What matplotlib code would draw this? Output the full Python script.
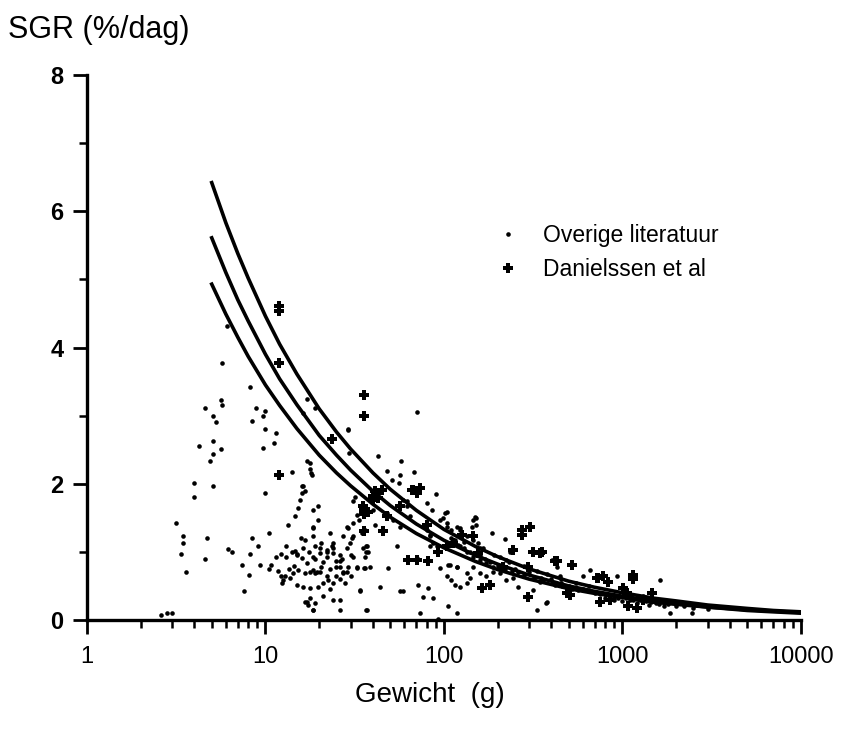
import numpy as np
import matplotlib
matplotlib.use("Agg")
import matplotlib.pyplot as plt
from matplotlib.ticker import FixedLocator, NullFormatter

plt.rcParams["font.family"] = ["Liberation Sans", "DejaVu Sans"]

# ── Fitted curves ────────────────────────────────────────────────────────────
curve_w = [5, 6, 7, 8, 10, 12, 15, 20, 25, 30, 40, 50, 70, 100, 150, 200,
           300, 500, 700, 1000, 1500, 2000, 3000, 5000, 7000, 10000]
curve_top = [6.42, 5.83, 5.38, 5.02, 4.46, 4.05, 3.61, 3.10, 2.76, 2.51, 2.16,
             1.92, 1.61, 1.33, 1.08, 0.93, 0.75, 0.57, 0.48, 0.40, 0.32, 0.28,
             0.22, 0.17, 0.14, 0.12]
curve_mid = [5.61, 5.10, 4.70, 4.39, 3.90, 3.54, 3.16, 2.71, 2.42, 2.20, 1.89,
             1.68, 1.41, 1.17, 0.95, 0.82, 0.66, 0.50, 0.42, 0.35, 0.28, 0.24,
             0.19, 0.15, 0.13, 0.11]
curve_low = [4.93, 4.49, 4.15, 3.87, 3.45, 3.15, 2.81, 2.42, 2.16, 1.97, 1.70,
             1.51, 1.27, 1.06, 0.86, 0.74, 0.60, 0.46, 0.39, 0.33, 0.26, 0.23,
             0.19, 0.14, 0.12, 0.10]

# ── Overige literatuur (small dots): weight (g), SGR (%/dag) ────────────────
lit_w = [2.6, 2.8, 3.0, 3.14, 3.46, 3.46, 3.36, 3.59, 3.99, 3.99, 4.26, 4.58,
         4.58, 4.70, 4.89, 5.06, 5.26, 5.06, 5.06, 5.06, 5.63, 5.69, 5.63, 5.69,
         6.06, 6.19, 6.46, 7.36, 7.59, 8.11, 8.19, 8.19, 8.44, 8.44, 8.81, 9.12,
         9.31, 9.64, 9.72, 10.0, 10.0, 10.0, 10.4, 10.4, 10.7, 11.1, 11.5, 11.5,
         12.2, 12.2, 12.6, 13.0, 13.4, 14.1, 14.6, 14.6, 15.1, 15.3, 15.6, 16.1,
         16.3, 15.8, 16.3, 14.3, 15.3, 16.6, 17.2, 17.8, 18.5, 18.5, 18.5, 18.5,
         17.8, 18.0,
         13.1, 14.0, 15.0, 16.0, 17.0, 18.5, 19.4, 20.2, 17.8, 16.6, 18.9, 20.6,
         22.0, 23.5, 24.0, 25.0, 26.1, 27.3, 28.5, 29.1, 25.0, 22.5, 21.1, 19.8,
         17.8, 16.3, 15.0, 13.7, 12.9, 12.3, 20.6, 22.0, 24.0, 26.1, 28.5, 27.3,
         20.2, 18.5,
         21, 23, 19, 22, 24, 26, 17.5, 14.5, 13.5, 11.8, 27, 30, 30, 28, 23, 21,
         19, 26,
         29.1, 30.4, 31.0, 29.1, 32.4, 33.9, 36.5, 36.5, 36.5, 35.5, 33.3, 40.2,
         41.0, 43.8, 29.2, 31.0, 31.6, 32.4,
         17, 18.9, 16.2, 29.1, 71, 42.5, 57.2, 68.2, 89.8, 55.7, 101, 149, 185,
         220, 123, 17, 17.8, 18.2, 16, 16.6, 19.8, 18.5, 19.8, 16.6, 18.9, 23,
         28.5, 31, 29.7, 20.2, 22, 24, 26.1, 25, 27.3, 36.9, 37.7, 31, 32.4,
         36.1, 48.8, 36.9, 33.8, 26.1, 24, 18.5, 17, 56.7, 59.2, 71.8, 76.6,
         81.7, 87.1, 73.4, 92.9, 106, 118, 103.5, 110, 115, 123, 134, 134, 140,
         146, 118, 106, 159, 173, 189, 206, 224, 244, 261, 316, 345, 410, 447,
         330, 376, 103.5, 118, 99, 146, 143, 47.8, 51, 56.7, 61.8, 64.5, 83.6,
         83.6,
         103.5, 151, 151, 401, 428, 59.2, 61.8, 80, 85.3, 95, 103.5, 110, 123,
         134, 146, 156, 166, 115, 123, 134, 146, 159, 173, 189, 206, 224, 234,
         80, 83.6, 87.1, 91, 52, 56.7, 47.8, 36.1, 34.6, 35.3, 36.1, 38.5, 54.3,
         70.3, 80, 95, 108, 118,
         658, 927, 1622, 1846, 2443, 603, 373,
         1100, 1200, 1300, 1400, 1500, 1600, 1700, 900, 800, 700, 600, 500, 450,
         400, 350, 300, 250, 2000, 2500, 3000,
         110, 120, 130, 140, 160, 170, 180, 200, 220, 240, 260, 280, 320, 360,
         420, 460, 520, 560, 650, 750, 850, 950, 1050, 1150, 1250, 1350, 1450,
         1550, 1800, 2200, 1000, 900, 800, 1100, 1300, 1600, 650, 550, 450, 380,
         330, 280, 230, 190, 160, 130]
lit_sgr = [0.08, 0.10, 0.10, 1.43, 1.24, 1.13, 0.97, 0.70, 2.01, 1.81, 2.56,
           3.11, 0.89, 1.20, 2.33, 2.99, 2.91, 2.63, 2.44, 1.97, 3.23, 3.15,
           2.51, 3.77, 4.32, 1.04, 1.00, 0.81, 0.43, 0.66, 0.97, 3.42, 2.92,
           1.20, 3.11, 1.08, 0.81, 2.52, 2.99, 3.07, 2.80, 1.86, 1.27, 0.75,
           0.81, 2.60, 2.75, 0.93, 0.97, 0.64, 0.59, 0.93, 1.40, 2.17, 1.52,
           1.01, 0.97, 1.64, 1.76, 1.86, 1.96, 1.20, 1.05, 0.69, 0.74, 0.27,
           0.22, 0.32, 0.15, 1.62, 1.35, 1.23, 2.30, 2.16,
           1.08, 1.00, 0.96, 0.91, 0.83, 0.74, 0.71, 0.71, 0.71, 0.69, 0.69,
           0.78, 0.93, 1.08, 0.98, 0.86, 0.78, 0.69, 0.71, 0.78, 0.64, 0.59,
           0.54, 0.49, 0.47, 0.49, 0.51, 0.61, 0.64, 0.54, 1.13, 1.03, 1.13,
           0.96, 1.05, 1.23, 0.98, 0.93,
           0.85, 0.75, 0.90, 0.65, 0.55, 0.60, 1.00, 0.80, 0.75, 0.72, 0.90,
           0.95, 0.65, 0.55, 0.45, 0.35, 0.25, 0.30,
           1.35, 1.20, 1.42, 2.80, 0.76, 0.43, 0.15, 1.08, 1.00, 0.76, 1.47,
           1.62, 1.40, 0.49, 2.45, 1.74, 1.81, 1.54,
           3.24, 3.11, 3.04, 2.79, 3.06, 2.41, 2.33, 2.17, 1.85, 2.01, 1.57,
           1.51, 1.27, 1.19, 1.35, 2.33, 2.21, 2.13, 1.96, 1.89, 1.67, 1.37,
           1.47, 1.18, 1.08, 1.27, 1.37, 1.23, 1.13, 1.05, 1.00, 1.05, 0.86,
           0.78, 0.71, 1.08, 1.00, 0.93, 0.78, 0.76, 0.76, 0.15, 0.44, 0.15,
           0.29, 0.15, 0.27, 0.42, 0.42, 0.51, 0.34, 0.47, 0.32, 0.11, 0.02,
           0.20, 0.10, 0.64, 0.59, 0.51, 0.49, 0.54, 0.69, 0.62, 0.78, 0.78,
           0.81, 0.69, 0.64, 0.71, 0.69, 0.59, 0.61, 0.49, 0.44, 0.56, 0.54,
           0.64, 0.15, 0.27, 1.37, 1.37, 1.50, 1.47, 1.37, 2.18, 2.06, 2.13,
           1.74, 1.52, 1.25, 1.08,
           1.59, 1.50, 1.40, 0.88, 0.78, 1.76, 1.67, 1.72, 1.62, 1.47, 1.42,
           1.32, 1.32, 1.23, 1.18, 1.13, 1.05, 1.18, 1.08, 1.00, 0.93, 0.88,
           0.83, 0.78, 0.93, 0.88, 1.00, 1.32, 1.23, 1.13, 1.08, 1.47, 1.37,
           1.57, 1.32, 1.27, 1.05, 0.93, 0.78, 1.08, 0.91, 0.88, 0.76, 0.81,
           0.78,
           0.74, 0.65, 0.58, 0.10, 0.11, 0.64, 0.25,
           0.30, 0.25, 0.33, 0.22, 0.28, 0.24, 0.20, 0.33, 0.38, 0.40, 0.45,
           0.50, 0.55, 0.60, 0.62, 0.70, 0.75, 0.20, 0.17, 0.16,
           1.20, 1.10, 1.05, 1.00, 0.95, 0.90, 0.85, 0.80, 0.75, 0.72, 0.70,
           0.66, 0.62, 0.58, 0.52, 0.50, 0.46, 0.44, 0.42, 0.38, 0.35, 0.33,
           0.32, 0.30, 0.29, 0.28, 0.26, 0.25, 0.23, 0.20, 0.28, 0.30, 0.33,
           0.36, 0.35, 0.30, 0.50, 0.55, 0.60, 0.67, 0.72, 0.80, 0.85, 0.95,
           1.05, 1.15]

# ── Danielssen et al (plus markers) ──────────────────────────────────────────
dan_w = [11.95, 11.95, 11.95, 11.95, 35.6, 35.6, 35.6, 35.6, 35.6, 40.2, 40.2,
         23.5, 41.1, 44.8, 42.5, 35.3, 37.7, 45.7, 47.8, 70.3, 67.3, 73.4, 65.9,
         56.7, 80, 70.3, 63.1, 81.7, 92.9, 103.5, 112.8, 125.6, 146, 155.6,
         162.6, 181, 215, 244, 272, 303, 272, 316, 345, 297, 297, 428, 519, 487,
         716, 419, 732, 781, 832, 1150, 1150, 1011, 1055, 508, 748, 1078, 1202,
         1457, 1309, 851, 424, 352]
dan_sgr = [4.61, 4.53, 3.77, 2.13, 3.31, 2.99, 1.62, 1.55, 1.30, 1.82, 1.76,
           2.65, 1.89, 1.91, 1.79, 1.67, 1.59, 1.30, 1.52, 1.86, 1.91, 1.94,
           1.91, 1.67, 1.40, 0.88, 0.88, 0.86, 1.00, 1.08, 1.13, 1.25, 1.23,
           0.98, 0.47, 0.51, 0.78, 1.03, 1.32, 1.37, 1.25, 1.00, 0.98, 0.78,
           0.34, 0.86, 0.81, 0.39, 0.61, 0.86, 0.61, 0.64, 0.56, 0.66, 0.60,
           0.47, 0.39, 0.37, 0.27, 0.20, 0.17, 0.39, 0.29, 0.29, 0.86, 1.00]

# ── Plot ─────────────────────────────────────────────────────────────────────
fig = plt.figure(figsize=(8.41, 7.34), dpi=100)
ax = fig.add_axes([0.1034, 0.1553, 0.849, 0.7425])

for c in (curve_top, curve_mid, curve_low):
    ax.plot(curve_w, c, color="black", linewidth=2.6, zorder=2)

ax.plot(lit_w, lit_sgr, linestyle="none", marker="o", markersize=3.3,
        color="black", markeredgewidth=0, label="Overige literatuur", zorder=3)
ax.plot(dan_w, dan_sgr, linestyle="none", marker="P", markersize=7.5,
        color="black", markeredgewidth=0, label="Danielssen et al", zorder=3)

ax.set_xscale("log")
ax.set_xlim(1, 10000)
ax.set_ylim(0, 8)

for side in ("top", "right"):
    ax.spines[side].set_visible(False)
for side in ("left", "bottom"):
    ax.spines[side].set_linewidth(2.4)

ax.xaxis.set_major_locator(FixedLocator([1, 10, 100, 1000, 10000]))
ax.set_xticklabels(["1", "10", "100", "1000", "10000"])
minor_x = [m * 10 ** d for d in range(4) for m in range(2, 10)]
ax.xaxis.set_minor_locator(FixedLocator(minor_x))
ax.xaxis.set_minor_formatter(NullFormatter())
ax.set_yticks([0, 2, 4, 6, 8])
ax.yaxis.set_minor_locator(FixedLocator([1, 3, 5, 7]))

ax.tick_params(which="major", direction="out", length=10, width=2,
               labelsize=17, pad=7)
ax.tick_params(axis="x", which="major", pad=9)
ax.tick_params(which="minor", direction="out", length=6, width=1.8)
for lab in ax.get_yticklabels():
    lab.set_fontweight("bold")

fig.text(0.01, 0.959, "SGR (%/dag)", fontsize=22, va="center", ha="left")
fig.text(0.511, 0.053, "Gewicht  (g)", fontsize=20, va="center", ha="center")

ax.legend(loc="upper left", bbox_to_anchor=(0.574, 0.726), frameon=False,
          fontsize=16.5, handlelength=1.0, handletextpad=1.0, labelspacing=0.45,
          borderpad=0, borderaxespad=0)

fig.savefig("out.png", dpi=100)
